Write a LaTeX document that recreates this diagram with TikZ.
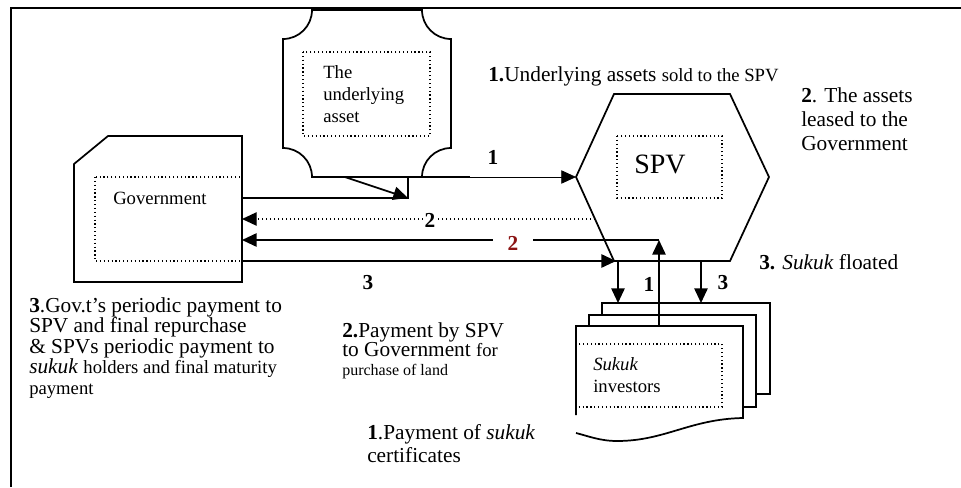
\documentclass[tikz,border=0pt]{standalone}
\usepackage{fontspec}
\setmainfont{Liberation Serif}
\usetikzlibrary{arrows.meta}
\definecolor{darkred}{RGB}{140,20,20}
\begin{document}
\begin{tikzpicture}[x=0.75pt,y=-0.75pt,
  shp/.style={line width=1.3pt, line join=miter},
  dotbox/.style={dotted, line width=0.9pt},
  tip/.style={-{Triangle[length=11pt,width=10pt]}},
  conn/.style={line width=1.3pt, tip},
  lbl/.style={font=\fontsize{16}{18}\selectfont\bfseries, inner sep=1pt},
  txt/.style={anchor=north west, inner sep=0pt, align=left},
]
\useasboundingbox (0,0) rectangle (961,487);
% frame
\draw[line width=1.4pt] (11,487) -- (11,8) -- (961,8);

% underlying asset (plaque)
\draw[shp, fill=white] (312,10) -- (422,10)
  .. controls (422,26) and (435,39) .. (451,39) -- (451,148)
  .. controls (435,148) and (422,161) .. (422,177) -- (312,177)
  .. controls (312,161) and (299,148) .. (283,148) -- (283,39)
  .. controls (299,39) and (312,26) .. (312,10) -- cycle;
\draw[dotbox] (303,52) rectangle (430,136);
\node[txt, font=\fontsize{14}{16.5}\selectfont] (asset) at (323,65) {The\\underlying\\asset};

% government
\draw[shp] (108,136) -- (242,136) -- (242,282) -- (74,282) -- (74,164) -- cycle;
\draw[dotbox] (95,177) rectangle (242,261);
\node[txt, font=\fontsize{14}{16.5}\selectfont] (gov) at (113,192) {Government};

% SPV hexagon
\draw[shp] (614,94) -- (730,94) -- (769,177) -- (730,261) -- (614,261) -- (576,177) -- cycle;
\draw[dotbox] (617,136) rectangle (722,198);
\node[font=\fontsize{21}{24}\selectfont, inner sep=0pt] (spv) at (660,164) {SPV};

% sukuk investors (multiple documents)
\draw[shp, fill=white] (602,303) rectangle (770,394);
\draw[shp, fill=white] (589,315) rectangle (756,407);
\fill[white] (576,326) -- (743,326) -- (743,418)
  .. controls (690,419) and (665,441) .. (617,441)
  .. controls (600,441) and (588,436) .. (576,433) -- cycle;
\draw[shp] (576,415) -- (576,326) -- (743,326) -- (743,418)
  .. controls (690,419) and (665,441) .. (617,441)
  .. controls (600,441) and (588,436) .. (576,433);
\draw[dotbox] (576,344) rectangle (722,407);
\node[txt, font=\fontsize{14}{17}\selectfont] (inv) at (593,357) {\textit{Sukuk}\\investors};

% connection points
\coordinate (gA) at (242,198);
\coordinate (gB) at (242,219);
\coordinate (gC) at (242,240);
\coordinate (gD) at (242,261);
\coordinate (j1) at (408,198);
\coordinate (j2) at (408,177);
\coordinate (t1) at (470,177);
\coordinate (spvL) at (576,177);
\coordinate (aB) at (345,177);
\coordinate (spvE) at (595,219);
\coordinate (invT) at (659,326);
\coordinate (c2) at (659,240);
\coordinate (spvBL) at (616,261);
\coordinate (d1a) at (618,261);
\coordinate (d1b) at (618,303);
\coordinate (d2a) at (701,261);
\coordinate (d2b) at (701,303);

% arrow 1 : asset -> SPV
\draw[line width=1.3pt] (gA) -- (j1) -- (j2) -- (t1);
\draw[line width=0.6pt, tip] (t1) -- (spvL);
\draw[conn] (aB) -- (j1);
\node[lbl] (l1a) at (493,157) {1};

% arrow 2 dotted : SPV -> government
\draw[dotted, line width=1pt, tip] (spvE) -- (gB);
\node[lbl, fill=white] (l2a) at (430,220) {2};

% arrow 2 solid : investors -> SPV -> government
\draw[conn] (invT) -- (c2);
\draw[conn] (c2) -- (gC);
\node[lbl, fill=white, text=darkred, minimum width=30pt, minimum height=22pt] (l2b) at (513,243) {2};
\node[lbl] (l1b) at (649,284) {1};

% arrow 3 : government -> SPV -> investors
\draw[conn] (gD) -- (spvBL);
\draw[conn] (d1a) -- (d1b);
\draw[conn] (d2a) -- (d2b);
\node[lbl] (l3a) at (368,283) {3};
\node[lbl] (l3b) at (723,283) {3};

% descriptive texts
\node[txt, font=\fontsize{16}{18}\selectfont] (t1u) at (488,66)
  {\textbf{1.}Underlying assets {\fontsize{14}{16}\selectfont sold to the SPV}};
\node[txt, font=\fontsize{16}{18}\selectfont] (t2l) at (801,87)
  {\textbf{2}. The assets\\leased to the\\Government};
\node[txt, font=\fontsize{16}{18}\selectfont] (t3s) at (759,254)
  {\textbf{3.} \textit{Sukuk} floated};
\node[txt, font=\fontsize{16}{15.4}\selectfont] (t3g) at (29,297)
  {\textbf{3}.Gov.t’s periodic payment to\\SPV and final repurchase\\\& SPVs periodic payment to\\\textit{sukuk} {\fontsize{14}{15}\selectfont holders and final maturity}\\{\fontsize{14}{15}\selectfont payment}};
\node[txt, font=\fontsize{16}{14.5}\selectfont] (t2p) at (342,322)
  {\textbf{2.}Payment by SPV\\to Government {\fontsize{14}{15}\selectfont for}\\{\fontsize{12}{13}\selectfont purchase of land}};
\node[txt, font=\fontsize{16}{17.3}\selectfont] (t1p) at (367,424)
  {\textbf{1}.Payment of \textit{sukuk}\\certificates};
\end{tikzpicture}
\end{document}
